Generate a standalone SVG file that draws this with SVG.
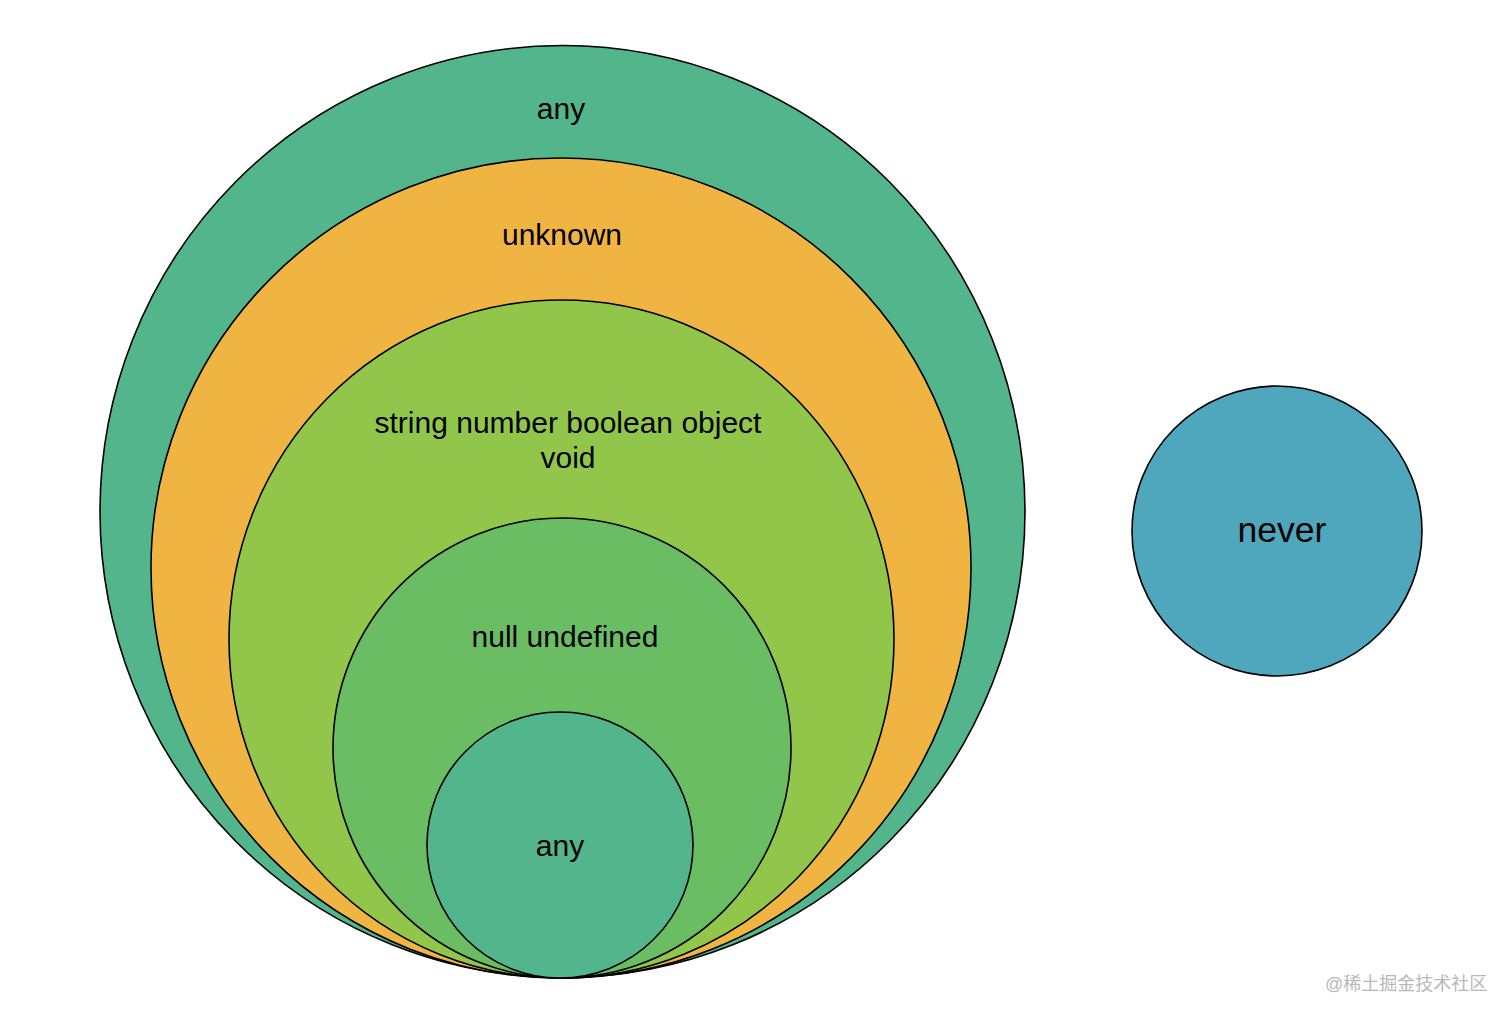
<svg xmlns="http://www.w3.org/2000/svg" width="1512" height="1019" viewBox="0 0 1512 1019">
<style>
.c{stroke:#000;stroke-width:1.6}
.t{font-family:"Liberation Sans",Arial,sans-serif;font-size:30px;fill:#000;text-anchor:middle}
.wm{font-family:"Liberation Sans","Noto Sans CJK SC",sans-serif;font-size:18px;fill:#b8b8b8}
</style>
<rect width="1512" height="1019" fill="#fff"/>
<g id="any-outer"><ellipse class="c" cx="562.5" cy="511.5" rx="462.5" ry="466" fill="#53b58b"/><text class="t" x="561" y="119">any</text></g>
<g id="unknown"><ellipse class="c" cx="561" cy="568" rx="410" ry="410" fill="#efb442"/><text class="t" x="562" y="245">unknown</text></g>
<g id="primitives"><ellipse class="c" cx="561.5" cy="639" rx="332.5" ry="339" fill="#92c64a"/><text class="t" x="568" y="433">string number boolean object</text><text class="t" x="568" y="468">void</text></g>
<g id="null-undefined"><ellipse class="c" cx="562" cy="748" rx="229" ry="230" fill="#6abd63"/><text class="t" x="565" y="647">null undefined</text></g>
<g id="any-inner"><circle class="c" cx="560" cy="845" r="133" fill="#53b58b"/><text class="t" x="560" y="856">any</text></g>
<g id="never"><circle class="c" cx="1277" cy="531" r="145" fill="#4ea7bc"/><text class="t" x="1282" y="542" style="font-size:35.5px">never</text></g>
<g id="connectors"></g>
<text class="wm" x="1325" y="990">@稀土掘金技术社区</text>
</svg>
